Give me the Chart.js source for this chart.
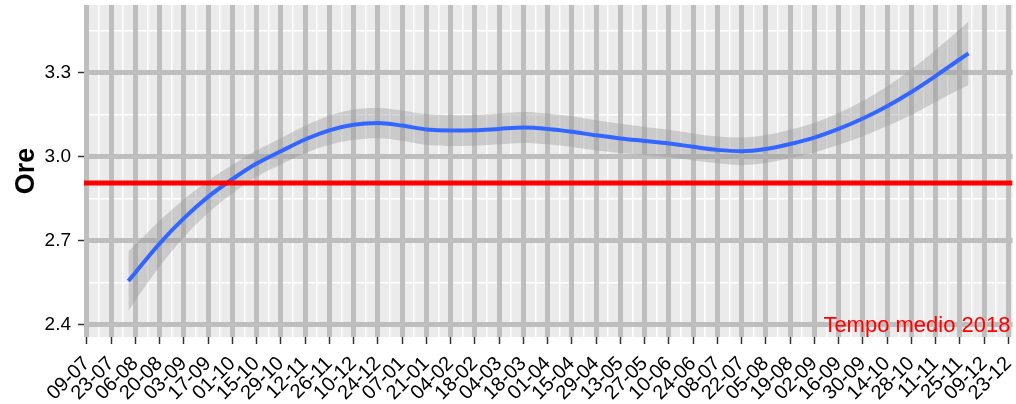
<!DOCTYPE html>
<html lang="it">
<head>
  <meta charset="UTF-8" />
  <title>Ore - andamento</title>
  <script src="https://cdn.jsdelivr.net/npm/chart.js"></script>
  <style>
    html, body {
      margin: 0;
      padding: 0;
      background: #ffffff;
    }
    #wrap {
      width: 1016px;
      height: 404px;
    }
  </style>
</head>
<body>
  <div id="wrap"><canvas id="oreChart"></canvas></div>

  <script>
    // Tick labels, one every two weeks starting from 09-07-2018
    const tickLabels = ['09-07','23-07','06-08','20-08','03-09','17-09','01-10','15-10','29-10','12-11',
                        '26-11','10-12','24-12','07-01','21-01','04-02','18-02','04-03','18-03','01-04',
                        '15-04','29-04','13-05','27-05','10-06','24-06','08-07','22-07','05-08','19-08',
                        '02-09','16-09','30-09','14-10','28-10','11-11','25-11','09-12','23-12'];
    const tickStepDays = 14;

    // Loess curve: days since 09-07-2018, fitted value and confidence band
    const smoothDays = [24, 28, 42, 56, 70, 84, 98, 112, 126, 140, 154, 168, 182, 196, 210, 224, 238, 252, 266,
                        280, 294, 308, 322, 336, 350, 364, 378, 392, 406, 420, 434, 448, 462, 476, 490, 504, 509];
    const smoothMean = [2.556, 2.586, 2.690, 2.780, 2.857, 2.920, 2.976, 3.020, 3.062, 3.095, 3.115, 3.121,
                        3.112, 3.098, 3.094, 3.095, 3.100, 3.105, 3.100, 3.090, 3.077, 3.066, 3.057, 3.048,
                        3.036, 3.025, 3.020, 3.028, 3.046, 3.069, 3.100, 3.137, 3.181, 3.232, 3.289, 3.349, 3.370];
    const smoothLow  = [2.449, 2.486, 2.608, 2.712, 2.799, 2.869, 2.929, 2.973, 3.013, 3.043, 3.061, 3.067,
                        3.058, 3.043, 3.039, 3.040, 3.045, 3.050, 3.045, 3.035, 3.023, 3.014, 3.007, 2.999,
                        2.988, 2.977, 2.971, 2.978, 2.995, 3.016, 3.043, 3.074, 3.110, 3.151, 3.196, 3.242, 3.256];
    const smoothHigh = [2.663, 2.686, 2.772, 2.848, 2.915, 2.971, 3.023, 3.067, 3.111, 3.147, 3.169, 3.175,
                        3.166, 3.153, 3.149, 3.150, 3.155, 3.160, 3.155, 3.145, 3.131, 3.118, 3.107, 3.097,
                        3.084, 3.073, 3.069, 3.078, 3.097, 3.122, 3.157, 3.200, 3.252, 3.313, 3.382, 3.456, 3.484];

    // Average time of 2018
    const mediaValue = 2.907;
    const mediaText = 'Tempo medio 2018';

    // Axis breaks
    const yMajor = [2.4, 2.7, 3.0, 3.3];
    const yMinor = [2.55, 2.85, 3.15, 3.45];
    const xMin = -1.6, xMax = 534.4;
    const yMin = 2.356, yMax = 3.543;

    const FONT = "'Liberation Sans', Arial, sans-serif";

    const xMajorTicks = tickLabels.map((_, i) => ({ value: i * tickStepDays }));
    const xMinorTicks = tickLabels.slice(1).map((_, i) => ({ value: i * tickStepDays + tickStepDays / 2 }));

    const toPoints = (arr) => smoothDays.map((d, i) => ({ x: d, y: arr[i] }));

    // no extra padding from the axis labels, the panel size is fixed
    const noPad = (scale) => {
      scale.paddingLeft = 0; scale.paddingRight = 0;
      scale.paddingTop = 0; scale.paddingBottom = 0;
    };

    // grey panel behind the grid
    const panelBackground = {
      id: 'panelBackground',
      beforeDraw(chart) {
        const { ctx, chartArea: a } = chart;
        ctx.save();
        ctx.fillStyle = '#EBEBEB';
        ctx.fillRect(a.left, a.top, a.right - a.left, a.bottom - a.top);
        ctx.restore();
      }
    };

    // red caption for the reference line, bottom right of the panel
    const mediaCaption = {
      id: 'mediaCaption',
      afterDatasetsDraw(chart) {
        const { ctx, chartArea: a, scales } = chart;
        const y = scales.y.getPixelForValue(2.4);
        ctx.save();
        ctx.font = '22px ' + FONT;
        ctx.fillStyle = '#FF0000';
        ctx.textAlign = 'right';
        ctx.textBaseline = 'alphabetic';
        ctx.fillText(mediaText, a.right - 2, y + 7);
        ctx.restore();
      }
    };

    new Chart(document.getElementById('oreChart'), {
      type: 'line',
      data: {
        datasets: [
          {
            data: [{ x: xMin, y: mediaValue }, { x: xMax, y: mediaValue }],
            borderColor: '#FF0000',
            borderWidth: 5,
            pointRadius: 0,
            order: 0
          },
          {
            data: toPoints(smoothMean),
            borderColor: '#3366FF',
            borderWidth: 4,
            pointRadius: 0,
            cubicInterpolationMode: 'monotone',
            order: 1
          },
          {
            data: toPoints(smoothHigh),
            borderWidth: 0,
            pointRadius: 0,
            cubicInterpolationMode: 'monotone',
            backgroundColor: 'rgba(153,153,153,0.4)',
            fill: '+1',
            order: 2
          },
          {
            data: toPoints(smoothLow),
            borderWidth: 0,
            pointRadius: 0,
            cubicInterpolationMode: 'monotone',
            fill: false,
            order: 3
          }
        ]
      },
      options: {
        responsive: true,
        maintainAspectRatio: false,
        animation: false,
        layout: { padding: { top: 5, right: 3.5, left: 0, bottom: 0 } },
        plugins: {
          legend: { display: false },
          tooltip: { enabled: false }
        },
        scales: {
          // minor breaks, drawn first so the major lines sit on top
          xMinor: {
            type: 'linear', position: 'bottom', min: xMin, max: xMax, z: -2,
            border: { display: false },
            ticks: { display: false },
            grid: { color: '#FFFFFF', lineWidth: 1.5, drawTicks: false },
            afterBuildTicks(scale) { scale.ticks = xMinorTicks; },
            afterFit(scale) { scale.height = 0; noPad(scale); }
          },
          yMinor: {
            type: 'linear', position: 'left', min: yMin, max: yMax, z: -2,
            border: { display: false },
            ticks: { display: false },
            grid: { color: '#FFFFFF', lineWidth: 1.5, drawTicks: false },
            afterBuildTicks(scale) { scale.ticks = yMinor.map(v => ({ value: v })); },
            afterFit(scale) { scale.width = 0; noPad(scale); }
          },
          x: {
            type: 'linear',
            position: 'bottom',
            min: xMin,
            max: xMax,
            z: -1,
            border: { display: false },
            grid: { color: '#BEBEBE', lineWidth: 5, tickColor: '#333333', tickWidth: 1.5, tickLength: 7 },
            afterBuildTicks(scale) { scale.ticks = xMajorTicks; },
            afterFit(scale) { scale.height = 67; noPad(scale); },
            ticks: {
              autoSkip: false,
              minRotation: 45,
              maxRotation: 45,
              padding: 8,
              color: '#000000',
              font: { family: FONT, size: 20 },
              callback: (v) => tickLabels[Math.round(v / tickStepDays)]
            }
          },
          y: {
            type: 'linear',
            position: 'left',
            min: yMin,
            max: yMax,
            z: -1,
            border: { display: false },
            grid: { color: '#BEBEBE', lineWidth: 5, tickColor: '#333333', tickWidth: 1.5, tickLength: 6 },
            afterBuildTicks(scale) { scale.ticks = yMajor.map(v => ({ value: v })); },
            afterFit(scale) { scale.width = 84; noPad(scale); },
            ticks: {
              padding: 7,
              color: '#000000',
              font: { family: FONT, size: 19 },
              callback: (v) => Number(v).toFixed(1)
            },
            title: {
              display: true,
              text: 'Ore',
              color: '#000000',
              padding: { top: 10, bottom: 0 },
              font: { family: FONT, size: 27, weight: 'bold' }
            }
          }
        }
      },
      plugins: [panelBackground, mediaCaption]
    });
  </script>
</body>
</html>
